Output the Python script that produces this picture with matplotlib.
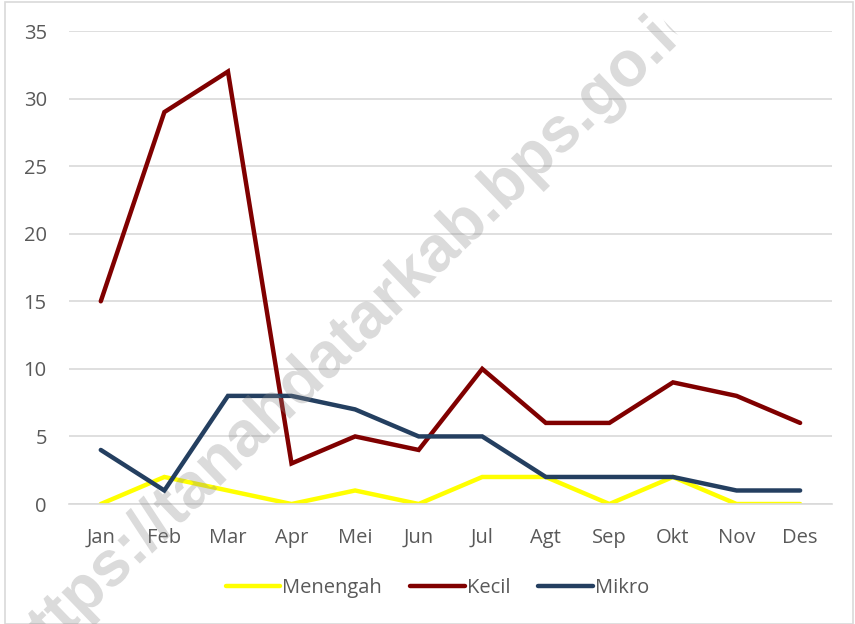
import numpy as np
import matplotlib.pyplot as plt
from matplotlib.patches import Rectangle, Polygon, PathPatch
from matplotlib.transforms import IdentityTransform, Affine2D
from matplotlib.textpath import TextPath
from matplotlib.font_manager import FontProperties

months = ['Jan', 'Feb', 'Mar', 'Apr', 'Mei', 'Jun', 'Jul', 'Agt', 'Sep', 'Okt', 'Nov', 'Des']
menengah = [0, 2, 1, 0, 1, 0, 2, 2, 0, 2, 0, 0]
kecil = [15, 29, 32, 3, 5, 4, 10, 6, 6, 9, 8, 6]
mikro = [4, 1, 8, 8, 7, 5, 5, 2, 2, 2, 1, 1]
yticks = [0, 5, 10, 15, 20, 25, 30, 35]

text_col = '#595959'
grid_col = '#d9d9d9'
plt.rcParams['font.family'] = ['Open Sans', 'DejaVu Sans']

fig = plt.figure(figsize=(8.55, 6.24), dpi=100)
ax = fig.add_axes([0.0807, 0.1923, 0.8923, 0.7580])

x = range(len(months))
ax.plot(x, menengah, color='#ffff00', lw=3.2, label='Menengah', solid_capstyle='round', solid_joinstyle='miter')
ax.plot(x, kecil, color='#800000', lw=3.2, label='Kecil', solid_capstyle='round', solid_joinstyle='miter')
ax.plot(x, mikro, color='#243f60', lw=3.2, label='Mikro', solid_capstyle='round', solid_joinstyle='miter')

ax.set_xlim(-0.5, len(months) - 0.5)
ax.set_ylim(0, 35)
ax.set_yticks(yticks)
ax.set_xticks(list(x))
ax.set_xticklabels(months)
ax.yaxis.grid(True, color=grid_col, lw=1.2)
ax.set_axisbelow(True)
for s in ax.spines.values():
    s.set_visible(False)
ax.spines['bottom'].set_visible(True)
ax.spines['bottom'].set_color(grid_col)
ax.spines['bottom'].set_linewidth(1.2)
ax.tick_params(length=0, colors=text_col, labelsize=14.5)
ax.tick_params(axis='y', pad=16)
ax.tick_params(axis='x', pad=17)

leg = ax.legend(loc='center', bbox_to_anchor=(0.483, -0.178), ncol=3, frameon=False,
                fontsize=14.5, handlelength=2.7, handletextpad=0.1, columnspacing=1.4)
for t in leg.get_texts():
    t.set_color(text_col)

# watermark as a path so it can be cut off after the "i" like in the source
ang = 44
tp = TextPath((0, 0), 'https://tanahdatarkab.bps.go.id', size=46,
              prop=FontProperties(family='Liberation Sans', weight='bold'))
ext = tp.get_extents()
cx, cy = (ext.x0 + ext.x1) / 2, (ext.y0 + ext.y1) / 2
tr = Affine2D().translate(-cx, -cy).scale(100 / 72).rotate_deg(ang).translate(354, 290)
wm = PathPatch(tp, transform=tr + IdentityTransform(), facecolor='#888888', edgecolor='none',
               lw=0, alpha=0.3, zorder=10)
fig.add_artist(wm)
u = np.array([np.cos(np.radians(ang)), np.sin(np.radians(ang))])
v = np.array([-u[1], u[0]])
cut = np.array([675, 592])
big = 3000
clip = Polygon([cut + v * big, cut - v * big, cut - v * big - u * big, cut + v * big - u * big],
               closed=True, transform=IdentityTransform())
wm.set_clip_path(clip)

# outer border
fig.patches.append(Rectangle((0.006, 0.0), 0.992, 0.996, transform=fig.transFigure,
                             fill=False, edgecolor=grid_col, lw=1.2))

fig.savefig('out.png', dpi=100)
